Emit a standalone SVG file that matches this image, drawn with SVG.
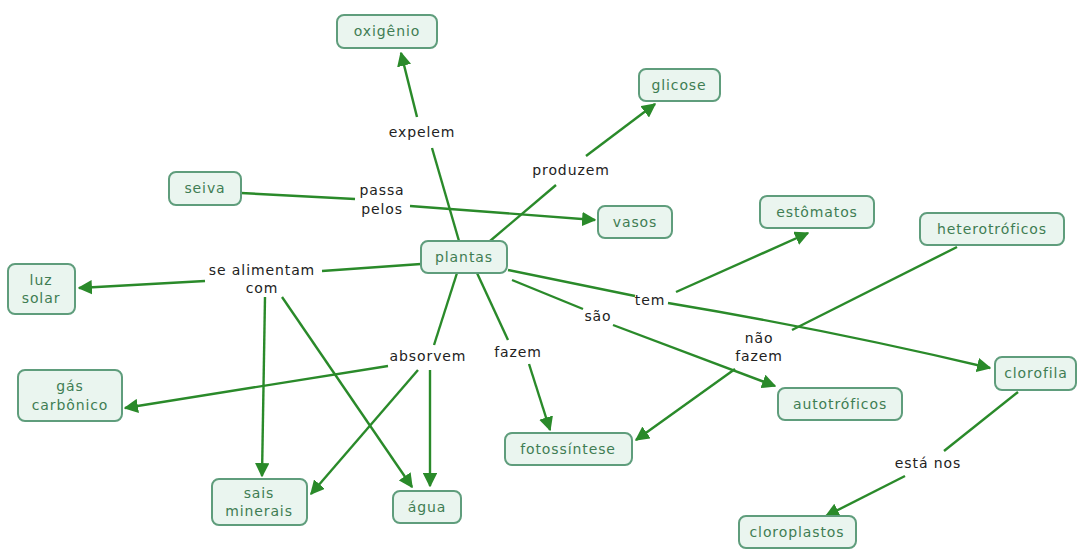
<svg xmlns="http://www.w3.org/2000/svg" width="1078" height="550" viewBox="0 0 1078 550">
<defs>
<marker id="ah" viewBox="0 0 10 10" refX="9" refY="5" markerWidth="6" markerHeight="6" orient="auto" markerUnits="strokeWidth">
<path d="M0,0 L10,5 L0,10 z" fill="#2a8a2a"/>
</marker>
<style>
.n rect{fill:#eaf5ef;stroke:#5f9d7c;stroke-width:2}
.n text{font-family:"DejaVu Sans",sans-serif;font-size:14px;letter-spacing:0.9px;fill:#3f7d53;text-anchor:middle}
.c line,.c path{stroke:#2a8a2a;stroke-width:2.4;fill:none}
.a{marker-end:url(#ah)}
.l{font-family:"DejaVu Sans",sans-serif;font-size:14px;letter-spacing:0.9px;fill:#222;text-anchor:middle}
</style>
</defs>
<rect width="1078" height="550" fill="#fff"/>
<g class="c">
<line x1="459" y1="241" x2="432" y2="148"/>
<line class="a" x1="417" y1="117" x2="401" y2="53"/>
<line x1="490" y1="241" x2="556" y2="185"/>
<line class="a" x1="586" y1="156" x2="655" y2="104"/>
<line x1="241" y1="193" x2="355" y2="199"/>
<line class="a" x1="410" y1="206" x2="595" y2="220"/>
<line x1="421" y1="264" x2="322" y2="271"/>
<line class="a" x1="205" y1="281" x2="79" y2="288"/>
<line class="a" x1="265" y1="297" x2="262" y2="476"/>
<line class="a" x1="282" y1="297" x2="412" y2="487"/>
<line x1="457" y1="273" x2="434" y2="345"/>
<line class="a" x1="388" y1="366" x2="125" y2="408"/>
<line class="a" x1="418" y1="370" x2="311" y2="494"/>
<line class="a" x1="430" y1="370" x2="430" y2="486"/>
<line x1="477" y1="273" x2="508" y2="340"/>
<line class="a" x1="529" y1="364" x2="550" y2="430"/>
<line x1="508" y1="270" x2="635" y2="296"/>
<line class="a" x1="676" y1="292" x2="808" y2="233"/>
<path class="a" d="M668,303 Q830,330 990,368"/>
<line x1="512" y1="280" x2="583" y2="309"/>
<line class="a" x1="613" y1="325" x2="775" y2="386"/>
<line x1="957" y1="247" x2="792" y2="330"/>
<line class="a" x1="735" y1="369" x2="636" y2="440"/>
<line x1="1018" y1="392" x2="944" y2="451"/>
<line class="a" x1="905" y1="476" x2="826" y2="516"/>
</g>
<g class="lbl">
<text class="l" x="422" y="137">expelem</text>
<text class="l" x="571" y="175">produzem</text>
<text class="l" x="382" y="195">passa</text>
<text class="l" x="382" y="214">pelos</text>
<text class="l" x="262" y="275">se alimentam</text>
<text class="l" x="262" y="293">com</text>
<text class="l" x="650" y="305">tem</text>
<text class="l" x="598" y="321">são</text>
<text class="l" x="759" y="343">não</text>
<text class="l" x="759" y="361">fazem</text>
<text class="l" x="428" y="361">absorvem</text>
<text class="l" x="518" y="357">fazem</text>
<text class="l" x="928" y="468">está nos</text>
</g>
<g class="n" id="oxigenio"><rect x="337" y="15" width="100" height="33" rx="7"/><text x="387" y="36">oxigênio</text></g>
<g class="n" id="glicose"><rect x="639" y="69" width="81" height="32" rx="7"/><text x="679" y="90">glicose</text></g>
<g class="n" id="seiva"><rect x="169" y="172" width="72" height="33" rx="7"/><text x="205" y="193">seiva</text></g>
<g class="n" id="vasos"><rect x="598" y="206" width="74" height="32" rx="7"/><text x="635" y="227">vasos</text></g>
<g class="n" id="estomatos"><rect x="760" y="196" width="114" height="32" rx="7"/><text x="817" y="217">estômatos</text></g>
<g class="n" id="heterotroficos"><rect x="920" y="213" width="144" height="32" rx="7"/><text x="992" y="234">heterotróficos</text></g>
<g class="n" id="plantas"><rect x="421" y="241" width="86" height="32" rx="7"/><text x="464" y="262">plantas</text></g>
<g class="n" id="luzsolar"><rect x="8" y="264" width="67" height="50" rx="7"/><text x="41" y="285">luz</text><text x="41" y="303">solar</text></g>
<g class="n" id="gascarbonico"><rect x="18" y="370" width="104" height="51" rx="7"/><text x="70" y="391">gás</text><text x="70" y="410">carbônico</text></g>
<g class="n" id="clorofila"><rect x="995" y="357" width="81" height="33" rx="7"/><text x="1036" y="378">clorofila</text></g>
<g class="n" id="autotroficos"><rect x="778" y="388" width="124" height="32" rx="7"/><text x="840" y="409">autotróficos</text></g>
<g class="n" id="fotossintese"><rect x="505" y="433" width="127" height="32" rx="7"/><text x="568" y="454">fotossíntese</text></g>
<g class="n" id="saisminerais"><rect x="212" y="479" width="95" height="46" rx="7"/><text x="259" y="498">sais</text><text x="259" y="516">minerais</text></g>
<g class="n" id="agua"><rect x="393" y="491" width="68" height="32" rx="7"/><text x="427" y="512">água</text></g>
<g class="n" id="cloroplastos"><rect x="739" y="516" width="117" height="32" rx="7"/><text x="797" y="537">cloroplastos</text></g>
</svg>
